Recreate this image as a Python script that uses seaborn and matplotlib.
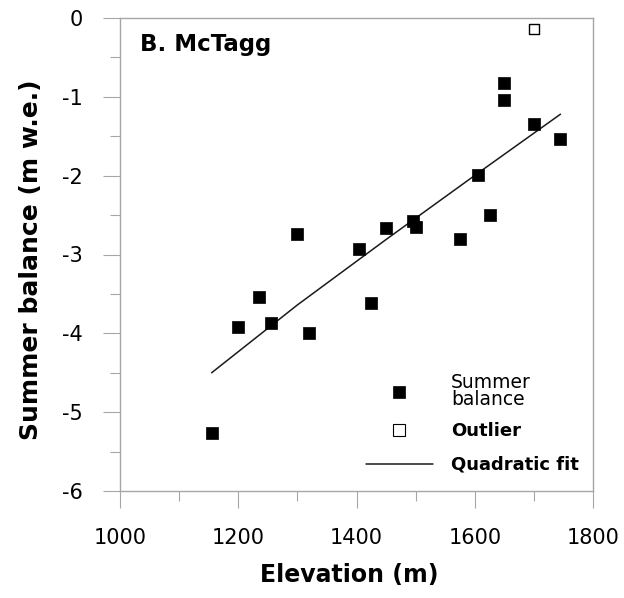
import numpy as np
import pandas as pd
import matplotlib
matplotlib.use("Agg")
import matplotlib.pyplot as plt
from matplotlib.lines import Line2D
from matplotlib.ticker import MultipleLocator
import seaborn as sns

# ---- data ----
elevation = [1155, 1200, 1235, 1255, 1300, 1320, 1405, 1425, 1450, 1495,
             1500, 1575, 1605, 1625, 1650, 1650, 1700, 1745]
summer_balance = [-5.26, -3.92, -3.54, -3.87, -2.74, -3.99, -2.93, -3.61, -2.67, -2.58,
                  -2.65, -2.80, -1.99, -2.50, -0.82, -1.04, -1.34, -1.54]
outlier_elev = [1700]
outlier_bal = [-0.14]
fit_elev = [1155, 1300, 1450, 1605, 1745]
fit_bal = [-4.50, -3.64, -2.81, -1.97, -1.22]

x_ticks = [1000, 1200, 1400, 1600, 1800]
y_ticks = [-6, -5, -4, -3, -2, -1, 0]

sns.set_style("ticks")
plt.rcParams['font.family'] = ['DejaVu Sans']
plt.rcParams['text.color'] = 'black'
plt.rcParams['axes.labelcolor'] = 'black'

fig = plt.figure(figsize=(6.24, 5.98), dpi=100)
ax = fig.add_axes([120/624, 1-491/598, 473/624, 473/598])

df = pd.DataFrame({"elev": elevation, "bal": summer_balance})
df_out = pd.DataFrame({"elev": outlier_elev, "bal": outlier_bal})
df_fit = pd.DataFrame({"elev": fit_elev, "bal": fit_bal})

sns.lineplot(data=df_fit, x="elev", y="bal", ax=ax, color="#1a1a1a", linewidth=1.1,
             sort=True, estimator=None, legend=False, zorder=2)
sns.scatterplot(data=df, x="elev", y="bal", ax=ax, marker="s", s=80, color="black",
                edgecolor="black", linewidth=0.5, legend=False, zorder=3)
sns.scatterplot(data=df_out, x="elev", y="bal", ax=ax, marker="s", s=62, facecolor="white",
                edgecolor="black", linewidth=1.0, legend=False, zorder=3)

ax.set_xlim(1000, 1800)
ax.set_ylim(-6, 0)
ax.set_xticks(x_ticks)
ax.set_yticks(y_ticks)
ax.set_xticklabels([str(v) for v in x_ticks])
ax.set_yticklabels([str(v) for v in y_ticks])
ax.xaxis.set_minor_locator(MultipleLocator(100))
ax.yaxis.set_minor_locator(MultipleLocator(0.5))

spine_col = "#a6a6a6"
for sp in ax.spines.values():
    sp.set_color(spine_col)
    sp.set_linewidth(1.0)
    sp.set_visible(True)

ax.tick_params(axis="both", which="major", direction="out", length=12.5, width=0.8,
               color=spine_col, labelsize=15, labelcolor="black", pad=14)
ax.tick_params(axis="both", which="minor", direction="out", length=7, width=0.8,
               color=spine_col)

ax.set_xlabel("Elevation (m)", fontsize=17, fontweight="bold", color="black")
ax.set_ylabel("Summer balance (m w.e.)", fontsize=18, fontweight="bold", color="black")
ax.xaxis.set_label_coords(0.485, -0.152)
ax.yaxis.set_label_coords(-0.163, 0.488)

ax.text(0.042, 0.968, "B. McTagg", transform=ax.transAxes, fontsize=16.5,
        fontweight="bold", va="top", ha="left", color="black")

# legend A: summer balance
h_a = [Line2D([], [], marker="s", linestyle="none", markersize=9, markerfacecolor="black",
              markeredgecolor="black", markeredgewidth=0.5)]
leg_a = ax.legend(h_a, ["Summer\nbalance"], loc="lower left", bbox_to_anchor=(0.52, 0.174),
                  frameon=False, borderpad=0, borderaxespad=0, handlelength=3.7,
                  handletextpad=1.0, fontsize=13)
ta = leg_a.get_texts()[0]
ta.set_fontsize(13.5)
ta.set_linespacing(0.85)
ta.set_color("black")
ax.add_artist(leg_a)

# legend B: outlier + fit
h_b = [
    Line2D([], [], marker="s", linestyle="none", markersize=8.5, markerfacecolor="white",
           markeredgecolor="black", markeredgewidth=0.8),
    Line2D([], [], color="#1a1a1a", linewidth=1.1),
]
leg_b = ax.legend(h_b, ["Outlier", "Quadratic fit"], loc="lower left",
                  bbox_to_anchor=(0.52, 0.036), frameon=False, borderpad=0,
                  borderaxespad=0, handlelength=3.7, handletextpad=1.0,
                  labelspacing=0.88, fontsize=13)
for t in leg_b.get_texts():
    t.set_fontweight("bold")
    t.set_color("black")

fig.savefig("out.png", dpi=100)
